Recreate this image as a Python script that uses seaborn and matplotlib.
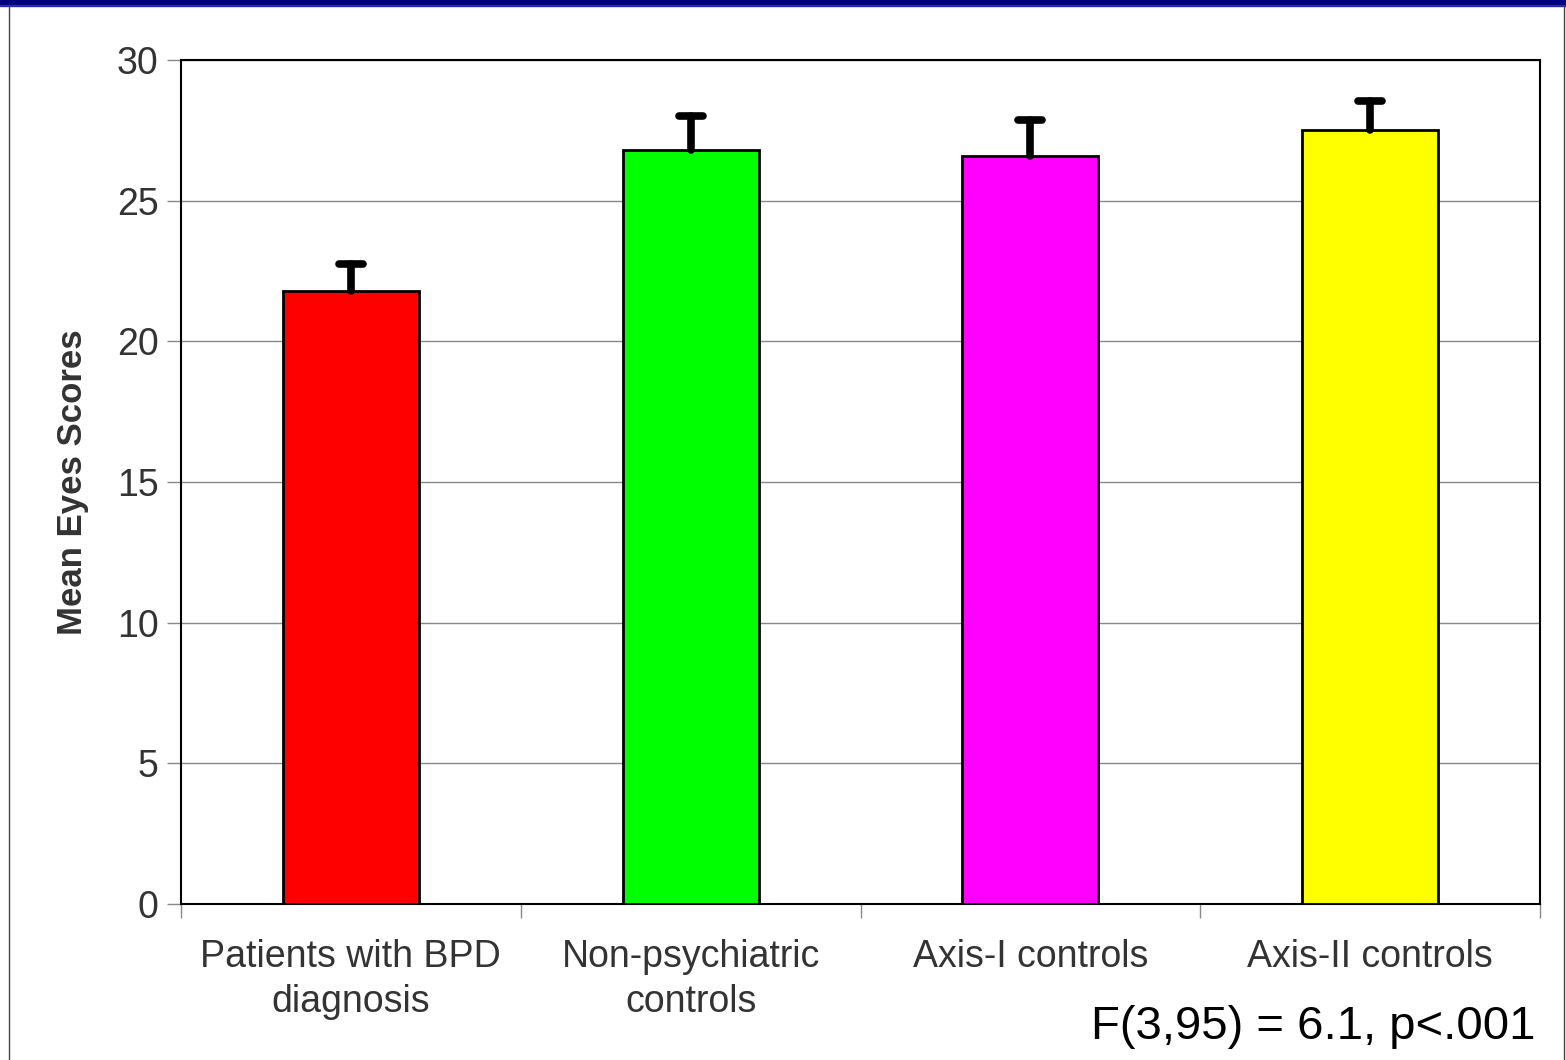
import numpy as np
import pandas as pd
import matplotlib
matplotlib.use("Agg")
import matplotlib.pyplot as plt
import seaborn as sns

# data
groups = ["Patients with BPD\ndiagnosis", "Non-psychiatric\ncontrols",
          "Axis-I controls", "Axis-II controls"]
means = [21.8, 26.8, 26.6, 27.5]
errors = [0.95, 1.2, 1.25, 1.05]
colors = ["#ff0000", "#00ff00", "#ff00ff", "#ffff00"]
yticks = [0, 5, 10, 15, 20, 25, 30]
stat_text = "F(3,95) = 6.1, p<.001"

df = pd.DataFrame({"group": groups, "mean": means})

sns.set_style("white")
plt.rcParams["font.family"] = ["Liberation Sans", "DejaVu Sans"]

fig = plt.figure(figsize=(15.66, 10.6), dpi=100)
ax = fig.add_axes([181 / 1566, 1 - 904 / 1060, (1540 - 181) / 1566, (904 - 60) / 1060])

sns.barplot(data=df, x="group", y="mean", hue="group", palette=colors,
            saturation=1, width=0.4, edgecolor="black", linewidth=2,
            legend=False, ax=ax, zorder=3)

# upper-only error bars with rounded ends
x = np.arange(len(groups))
tops = np.array(means) + np.array(errors)
ax.vlines(x, means, tops, color="black", lw=5.5, capstyle="round", zorder=4)
ax.hlines(tops, x - 0.035, x + 0.035, color="black", lw=5.5,
          capstyle="round", zorder=4)

ax.set_ylim(0, 30)
ax.set_xlim(-0.5, len(groups) - 0.5)
ax.set_yticks(yticks)
ax.yaxis.grid(True, color="#888888", linewidth=1)
ax.set_axisbelow(True)

# ticks at the category borders, labels centered under the bars
ax.set_xticks(np.arange(len(groups) + 1) - 0.5)
ax.set_xticklabels([])
ax.set_xticks(x, minor=True)
ax.set_xticklabels(groups, minor=True, fontsize=27, color="#333333",
                   linespacing=1.32)
ax.tick_params(axis="x", which="minor", length=0, pad=25)
ax.tick_params(axis="x", which="major", length=10, color="#888888", width=1,
               direction="out", bottom=True)
ax.tick_params(axis="y", length=10, color="#888888", width=1, direction="out",
               left=True, labelsize=27, labelcolor="#333333", pad=6)

for s in ax.spines.values():
    s.set_visible(True)
    s.set_color("black")
    s.set_linewidth(1.5)

ax.set_xlabel("")
ax.set_ylabel("Mean Eyes Scores", fontsize=25, fontweight="bold",
              color="#333333", labelpad=20)

fig.text(1535 / 1566, 1 - 1027 / 1060, stat_text, fontsize=34,
         ha="right", va="center", color="black")

# slide frame: navy band on top and thin borders at the sides
fig.patches.append(plt.Rectangle((0, 1 - 5 / 1060), 1, 5 / 1060,
                                 transform=fig.transFigure, color="#000080"))
fig.patches.append(plt.Rectangle((0, 1 - 6 / 1060), 1, 1.5 / 1060,
                                 transform=fig.transFigure, color="#2a2aa8"))
fig.add_artist(plt.Line2D([9 / 1566, 9 / 1566], [0, 1 - 6 / 1060],
                          transform=fig.transFigure, color="#444444", lw=1))
fig.add_artist(plt.Line2D([1564 / 1566, 1564 / 1566], [0, 1 - 6 / 1060],
                          transform=fig.transFigure, color="#444444", lw=1))

plt.savefig("out.png", dpi=100)
